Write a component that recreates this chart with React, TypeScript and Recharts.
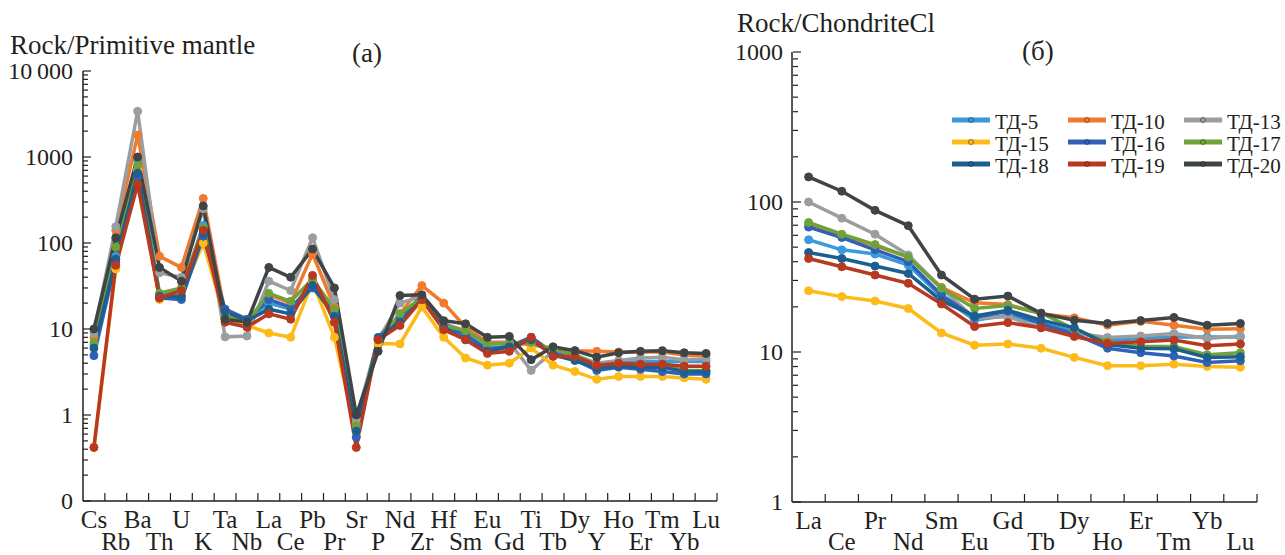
import { LineChart, Line, XAxis, YAxis, Legend } from "recharts";

// element order on the two x axes
const spiderElements = ["Cs", "Rb", "Ba", "Th", "U", "K", "Ta", "Nb", "La", "Ce", "Pb", "Pr", "Sr", "P", "Nd", "Zr", "Hf", "Sm", "Eu", "Gd", "Ti", "Tb", "Dy", "Y", "Ho", "Er", "Tm", "Yb", "Lu"];
const reeElements = ["La", "Ce", "Pr", "Nd", "Sm", "Eu", "Gd", "Tb", "Dy", "Ho", "Er", "Tm", "Yb", "Lu"];

// (a) rock / primitive mantle
const pmTD5 = [6.5, 70, 900, 25, 28, 160, 16, 12.5, 20, 17, 35, 15, 0.7, 7.5, 13, 23, 11, 8.5, 6, 6.2, 7.5, 5.2, 4.6, 3.5, 4.0, 4.2, 4.2, 4.2, 4.2];
const pmTD10 = [8, 140, 1800, 70, 52, 330, 15, 12, 25, 20, 75, 18, 0.8, 7.5, 15, 32, 20, 10.5, 7, 7, 6.5, 6, 5.6, 5.5, 5.4, 5.4, 5.4, 5, 4.9];
const pmTD13 = [9, 155, 3400, 45, 40, 250, 8.1, 8.3, 36, 28, 115, 22, 0.9, 7.5, 20, 24, 11.5, 9.5, 6.5, 7, 3.3, 5.5, 5, 4, 4.3, 4.6, 4.7, 4.4, 4.5];
const pmTD15 = [0.42, 50, 700, 22, 25, 100, 13, 11, 9, 8, 35, 8, 0.6, 6.8, 6.7, 18, 8, 4.6, 3.8, 4, 6, 3.8, 3.2, 2.6, 2.8, 2.8, 2.8, 2.7, 2.6];
const pmTD16 = [4.9, 60, 600, 23, 22, 120, 17, 13, 22, 18, 30, 16, 0.55, 8, 14, 24, 11.5, 8.5, 5.8, 6.3, 8, 5.3, 4.4, 3.3, 3.6, 3.4, 3.2, 3.0, 3.0];
const pmTD17 = [7, 90, 800, 26, 30, 150, 14, 12, 26, 21, 38, 17, 0.75, 7.5, 15, 23, 11, 9.5, 6.8, 6.8, 7, 5.8, 5, 3.8, 3.9, 3.8, 3.8, 3.3, 3.3];
const pmTD18 = [6, 65, 650, 24, 24, 130, 16, 12.5, 17, 15, 32, 14, 0.65, 7.8, 12, 22, 10.5, 7.5, 5.5, 6.2, 7.5, 5, 4.3, 3.5, 3.7, 3.6, 3.6, 3.2, 3.2];
const pmTD19 = [0.42, 55, 480, 23, 28, 140, 12, 10.5, 15, 13, 42, 12, 0.42, 7.5, 11, 22, 9.8, 7.5, 5.2, 5.5, 8, 4.8, 4.8, 3.8, 4, 3.9, 3.9, 3.7, 3.7];
const pmTD20 = [10, 115, 1000, 52, 36, 270, 13, 12, 52, 40, 85, 30, 1.0, 5.5, 24.5, 25, 12.5, 11.5, 8, 8.2, 4.4, 6.2, 5.6, 4.7, 5.3, 5.5, 5.6, 5.3, 5.2];

// (б) rock / chondrite C1
const chTD5 = [56, 48, 45, 38, 23.4, 16.3, 17.6, 15.6, 13.7, 12, 12.3, 12.6, 12.6, 12.6];
const chTD10 = [71, 60, 51, 43, 27, 21.3, 20.7, 18, 16.9, 15.1, 16, 15.1, 14.2, 14.3];
const chTD13 = [100, 78, 61, 44.4, 26.6, 16.8, 17.2, 14.5, 13.4, 12.5, 12.8, 13.3, 12.3, 12.8];
const chTD15 = [25.6, 23.4, 21.9, 19.5, 13.4, 11.1, 11.3, 10.6, 9.2, 8.1, 8.1, 8.3, 8.0, 7.9];
const chTD16 = [68, 58, 48, 40, 24, 17, 18.7, 15.4, 13.2, 10.6, 9.9, 9.4, 8.5, 8.75];
const chTD17 = [73, 61, 52, 43, 26.6, 19.5, 20.4, 18.2, 14.2, 11.7, 10.9, 10.9, 9.6, 9.9];
const chTD18 = [46, 42, 37.4, 33.4, 22, 17.4, 19, 16.3, 14.5, 11.2, 10.6, 10.5, 9.2, 9.3];
const chTD19 = [42, 37, 32.6, 28.7, 20.9, 14.8, 15.7, 14.5, 12.7, 11.4, 11.7, 12, 11, 11.3];
const chTD20 = [147, 118, 88, 69.5, 32.6, 22.5, 23.6, 18.1, 16.3, 15.5, 16.2, 17, 15.1, 15.5];

const seriesKeys = ["TD5", "TD10", "TD13", "TD15", "TD16", "TD17", "TD18", "TD19", "TD20"];
const seriesNames = ["ТД-5", "ТД-10", "ТД-13", "ТД-15", "ТД-16", "ТД-17", "ТД-18", "ТД-19", "ТД-20"];
const seriesColors = ["#3b9ad9", "#f07b2e", "#9b9ea0", "#fdbb1a", "#2e62b8", "#6fa33a", "#1c5f8e", "#b8391f", "#3e4447"];

const pmSeries = [pmTD5, pmTD10, pmTD13, pmTD15, pmTD16, pmTD17, pmTD18, pmTD19, pmTD20];
const chSeries = [chTD5, chTD10, chTD13, chTD15, chTD16, chTD17, chTD18, chTD19, chTD20];

const pmMajor = [0.1, 1, 10, 100, 1000, 10000];
const pmMajorLabels = ["0", "1", "10", "100", "1000", "10\u2009000"];
const chMajor = [1, 10, 100, 1000];
const chMajorLabels = ["1", "10", "100", "1000"];

const FONT = "'Liberation Serif', 'Times New Roman', serif";
const INK = "#231f20";

function buildRows(elements: string[], series: number[][]) {
  return elements.map((el, i) => {
    const row: Record<string, any> = { el };
    seriesKeys.forEach((k, s) => (row[k] = series[s][i]));
    return row;
  });
}

function logTicks(majors: number[]) {
  const out: number[] = [];
  majors.forEach((m, i) => {
    out.push(m);
    if (i < majors.length - 1) for (let k = 2; k <= 9; k++) out.push(m * k);
  });
  return out;
}

const pmData = buildRows(spiderElements, pmSeries);
const chData = buildRows(reeElements, chSeries);

function makeYTick(majors: number[], labels: string[]) {
  return (props: any) => {
    const { x, y, payload } = props;
    const idx = majors.findIndex((m) => Math.abs(m - payload.value) < m * 1e-6);
    const axisX = x + 10;
    return (
      <g>
        <line x1={axisX} x2={axisX + (idx >= 0 ? 8 : 5)} y1={y} y2={y} stroke={INK} strokeWidth={1.2} />
        {idx >= 0 && (
          <text x={x} y={y} dy="0.35em" textAnchor="end" fontFamily={FONT} fontSize={24} fill={INK}>
            {labels[idx]}
          </text>
        )}
      </g>
    );
  };
}

// labels alternate between two rows; tick marks sit between categories
function makeXTick(band: number, lowerOffset: number) {
  return (props: any) => {
    const { x, y, payload, index } = props;
    const axisY = y;
    const upper = index % 2 === 0;
    return (
      <g>
        <line x1={x + band / 2} x2={x + band / 2} y1={axisY} y2={axisY - 8} stroke={INK} strokeWidth={1.2} />
        <text x={x} y={axisY + (upper ? 27 : lowerOffset)} textAnchor="middle" fontFamily={FONT} fontSize={25} fill={INK}>
          {payload.value}
        </text>
      </g>
    );
  };
}

function LegendBox() {
  const cols = [0, 116, 232];
  return (
    <svg width={340} height={80}>
      {seriesNames.map((name, i) => {
        const cx = cols[i % 3];
        const cy = 15 + Math.floor(i / 3) * 22;
        const c = seriesColors[i];
        return (
          <g key={name}>
            <line x1={cx} x2={cx + 38} y1={cy} y2={cy} stroke={c} strokeWidth={5} />
            <circle cx={cx + 19} cy={cy} r={2.5} fill={c} stroke={INK} strokeWidth={0.5} />
            <text x={cx + 43} y={cy + 9} fontFamily={FONT} fontSize={21} fill={INK}>
              {name}
            </text>
          </g>
        );
      })}
    </svg>
  );
}

function seriesLines() {
  return seriesKeys.map((k, i) => (
    <Line
      key={k}
      type="linear"
      dataKey={k}
      name={seriesNames[i]}
      stroke={seriesColors[i]}
      strokeWidth={3.5}
      dot={{ r: 4, fill: seriesColors[i], stroke: seriesColors[i], strokeWidth: 1 }}
      isAnimationActive={false}
    />
  ));
}

export default function App() {
  const pmBand = 634 / spiderElements.length;
  const chBand = 465 / reeElements.length;
  return (
    <div style={{ position: "absolute", left: 0, top: 0, width: 1285, height: 555, background: "#fff" }}>
      <div style={{ position: "absolute", left: 0, top: 0 }}>
        <LineChart width={720} height={555} data={pmData} margin={{ top: 71, right: 3, bottom: 0, left: 8 }}>
          <XAxis
            dataKey="el"
            height={54}
            interval={0}
            padding={{ left: pmBand / 2, right: pmBand / 2 }}
            tickLine={false}
            tickSize={0}
            tickMargin={0}
            axisLine={{ stroke: INK, strokeWidth: 1.5 }}
            tick={makeXTick(pmBand, 49)}
          />
          <YAxis
            scale="log"
            type="number"
            domain={[0.1, 10000]}
            allowDataOverflow
            ticks={logTicks(pmMajor)}
            interval={0}
            width={75}
            tickLine={false}
            tickSize={0}
            tickMargin={10}
            axisLine={{ stroke: INK, strokeWidth: 1.5 }}
            tick={makeYTick(pmMajor, pmMajorLabels)}
          />
          {seriesLines()}
        </LineChart>
      </div>
      <div style={{ position: "absolute", left: 720, top: 0 }}>
        <LineChart width={565} height={555} data={chData} margin={{ top: 52, right: 28, bottom: 0, left: 22 }}>
          <XAxis
            dataKey="el"
            height={53}
            interval={0}
            padding={{ left: chBand / 2, right: chBand / 2 }}
            tickLine={false}
            tickSize={0}
            tickMargin={0}
            axisLine={{ stroke: INK, strokeWidth: 1.5 }}
            tick={makeXTick(chBand, 48)}
          />
          <YAxis
            scale="log"
            type="number"
            domain={[1, 1000]}
            allowDataOverflow
            ticks={logTicks(chMajor)}
            interval={0}
            width={50}
            tickLine={false}
            tickSize={0}
            tickMargin={9}
            axisLine={{ stroke: INK, strokeWidth: 1.5 }}
            tick={makeYTick(chMajor, chMajorLabels)}
          />
          <Legend
            layout="horizontal"
            verticalAlign="middle"
            align="center"
            wrapperStyle={{ position: "absolute", left: 232, top: 105, width: 340, height: 80 }}
            content={() => <LegendBox />}
          />
          {seriesLines()}
        </LineChart>
      </div>
      <svg width={1285} height={80} style={{ position: "absolute", left: 0, top: 0, pointerEvents: "none" }}>
        <text x={10} y={54} fontFamily={FONT} fontSize={27} fill={INK}>Rock/Primitive mantle</text>
        <text x={352} y={62} fontFamily={FONT} fontSize={27} fill={INK}>(a)</text>
        <text x={737} y={32} fontFamily={FONT} fontSize={27} fill={INK}>Rock/ChondriteCl</text>
        <text x={1022} y={60} fontFamily={FONT} fontSize={27} fill={INK}>(б)</text>
      </svg>
    </div>
  );
}
